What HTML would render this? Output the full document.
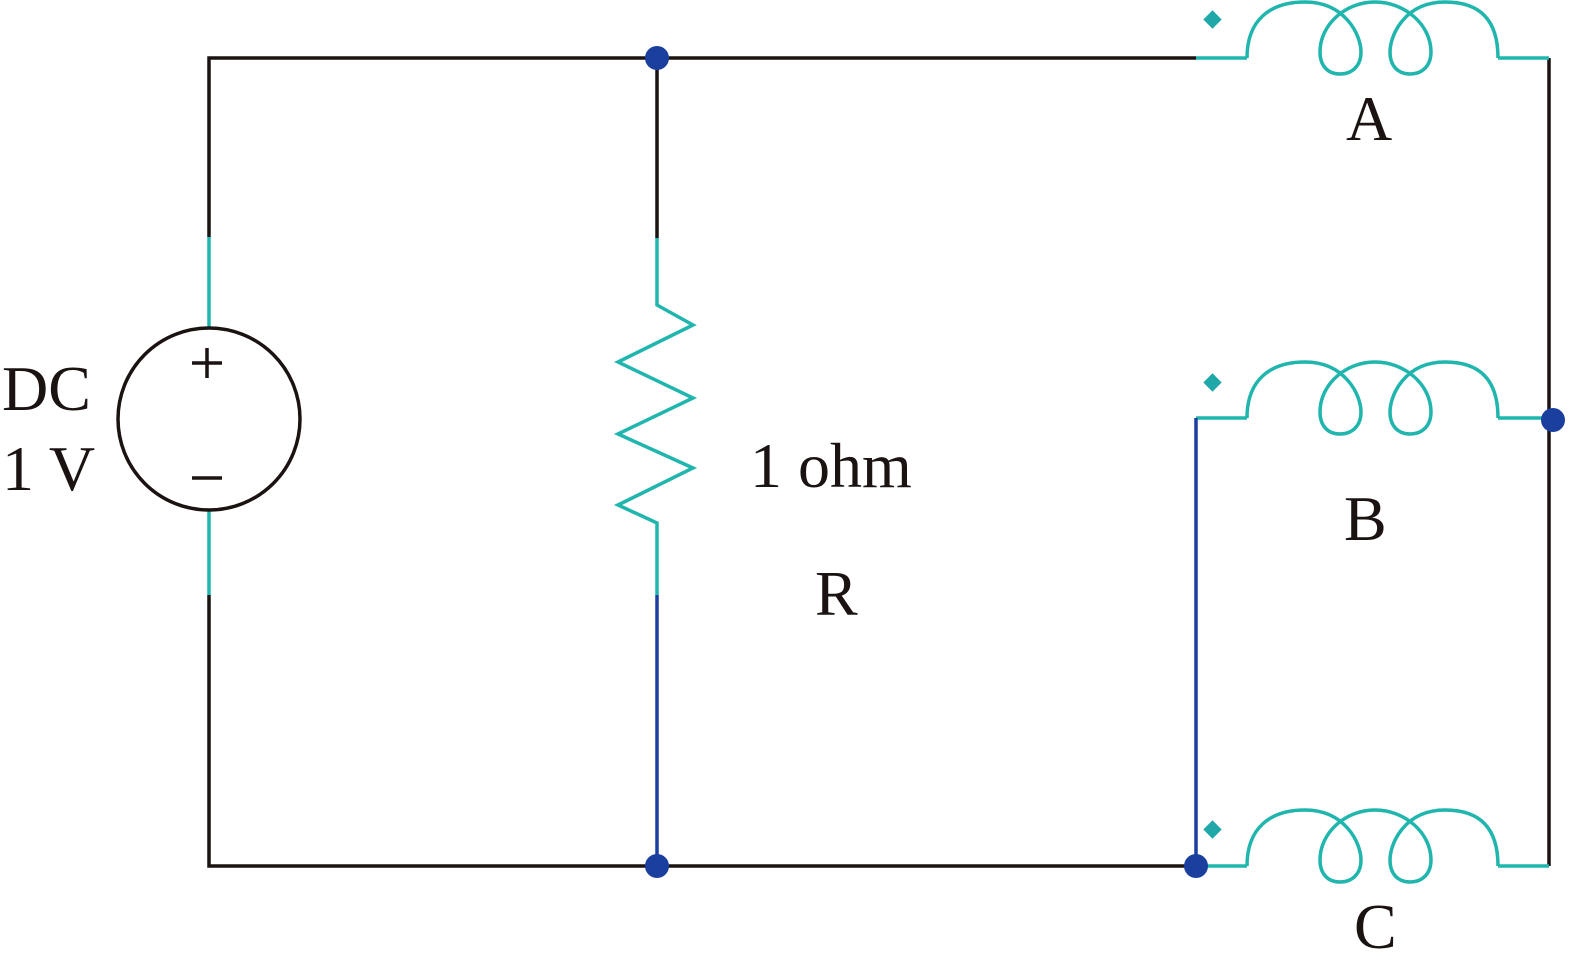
<!DOCTYPE html>
<html><head><style>body{margin:0;background:#fff}svg{display:block}</style></head><body>
<svg width="1569" height="974" viewBox="0 0 1569 974" xmlns="http://www.w3.org/2000/svg">
<defs>
<path id="coil" d="M1247,58 C1247,20 1270,2 1305,2 C1345,2 1361,35 1361,52 C1361,66 1352,74 1340,74 C1328,74 1320,66 1320,52 C1320,25 1345,2 1375,2 C1405,2 1431,25 1431,52 C1431,66 1422,74 1410,74 C1398,74 1390,66 1390,52 C1390,35 1405,2 1445,2 C1480,2 1498,20 1498,58" fill="none" stroke="#20b5ad" stroke-width="3.5"/>
</defs>
<g stroke-width="3.5" fill="none">
<path d="M209,237 V58 H1196 M209,595 V866 H1196 M657,58 V238 M1549,58 V866" stroke="#1a1311"/>
<path d="M209,237 V328 M209,510 V595 M657,238 V305 L693,325 L618,362 L693,398 L618,434 L693,468 L618,505 L657,523 V595" stroke="#20b5ad"/>
<path d="M1196,58 H1247 M1498,58 H1549 M1196,418 H1247 M1498,418 H1549 M1196,866 H1247 M1498,866 H1549" stroke="#20b5ad"/>
<path d="M657,595 V866 M1196,418 V866" stroke="#1b3f9e"/>
<circle cx="209" cy="419" r="91" stroke="#1a1311"/>
</g>
<use href="#coil"/>
<use href="#coil" transform="translate(0,360)"/>
<use href="#coil" transform="translate(0,808)"/>
<g fill="#20a8a8">
<rect x="1206" y="13" width="13" height="13" transform="rotate(45 1212.5 19.5)"/>
<rect x="1206" y="376" width="13" height="13" transform="rotate(45 1212.5 382.5)"/>
<rect x="1206" y="823" width="13" height="13" transform="rotate(45 1212.5 829.5)"/>
</g>
<g fill="#1b3f9e">
<circle cx="657" cy="58" r="12"/><circle cx="657" cy="866" r="12"/>
<circle cx="1196" cy="866" r="12"/><circle cx="1553" cy="420" r="12"/>
</g>
<path d="M192,363 H222 M207,348 V378 M192,478 H222" stroke="#1a1311" stroke-width="3.5"/>
<g font-family="Liberation Serif, serif" font-size="64" fill="#1a1311">
<text x="2" y="410">DC</text>
<text x="2" y="490">1 V</text>
<text x="750" y="487">1 ohm</text>
<text x="815" y="615">R</text>
<text x="1346" y="140">A</text>
<text x="1344" y="540">B</text>
<text x="1354" y="948">C</text>
</g>
</svg>
</body></html>
